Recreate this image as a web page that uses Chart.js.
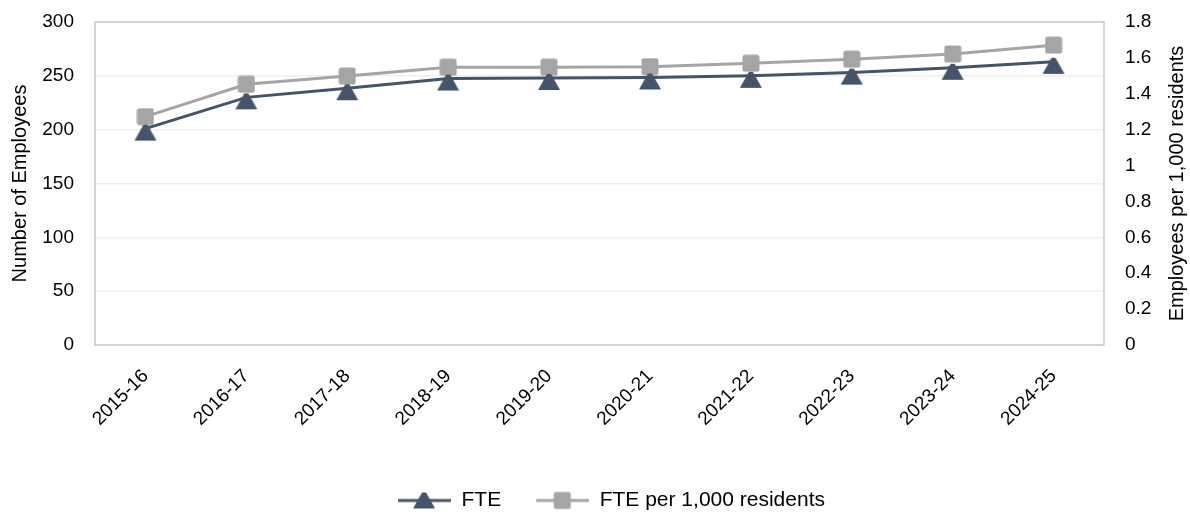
<!DOCTYPE html>
<html>
<head>
<meta charset="utf-8">
<script src="https://cdn.jsdelivr.net/npm/chart.js@4/dist/chart.umd.min.js"></script>
<style>
  html, body { margin: 0; padding: 0; background: #fff; }
  #wrap { width: 1190px; height: 512px; }
</style>
</head>
<body>
<div id="wrap"><canvas id="myChart_fte"></canvas></div>
<script>
const years = ['2015-16', '2016-17', '2017-18', '2018-19', '2019-20',
  '2020-21', '2021-22', '2022-23', '2023-24', '2024-25']
const fte = [201, 230, 238.5, 247.5, 248, 248.5, 250, 253, 257.5, 263]
const ftePerThousand = [1.273, 1.453, 1.499, 1.548, 1.548, 1.551, 1.570, 1.593, 1.622, 1.671]
const leftTicks = [0, 50, 100, 150, 200, 250, 300]
const rightTicks = [0, 0.2, 0.4, 0.6, 0.8, 1, 1.2, 1.4, 1.6, 1.8]

const FONT = "'Liberation Sans', Arial, sans-serif"
const dark = '#44546a'
const grey = '#a5a5a5'

function roundRect(ctx, x, y, w, h, r) {
  ctx.beginPath()
  ctx.moveTo(x + r, y)
  ctx.arcTo(x + w, y, x + w, y + h, r)
  ctx.arcTo(x + w, y + h, x, y + h, r)
  ctx.arcTo(x, y + h, x, y, r)
  ctx.arcTo(x, y, x + w, y, r)
  ctx.closePath()
}

// triangle hangs a little below the point, like the original
function drawTri(ctx, cx, top, color) {
  ctx.fillStyle = color
  ctx.beginPath()
  ctx.moveTo(cx - 2, top)
  ctx.lineTo(cx + 2, top)
  ctx.lineTo(cx + 11, top + 16)
  ctx.lineTo(cx - 11, top + 16)
  ctx.closePath()
  ctx.fill()
}

function triMarker(color) {
  const c = document.createElement('canvas')
  c.width = 24; c.height = 32
  drawTri(c.getContext('2d'), 12, 12, color)
  return c
}

function squareMarker(color) {
  const c = document.createElement('canvas')
  c.width = 18; c.height = 18
  const ctx = c.getContext('2d')
  ctx.fillStyle = color
  roundRect(ctx, 0.5, 0.5, 17, 17, 2.5)
  ctx.fill()
  return c
}

// little legend pictures: blank gap, then a line with the marker on it
function legendIcon(color, shape) {
  const gap = 33
  const c = document.createElement('canvas')
  c.width = gap + 53; c.height = 24
  const ctx = c.getContext('2d')
  ctx.strokeStyle = color
  ctx.lineWidth = 3
  ctx.beginPath(); ctx.moveTo(gap, 12); ctx.lineTo(gap + 53, 12); ctx.stroke()
  const mid = gap + 26
  if (shape === 'triangle') {
    drawTri(ctx, mid, 4, color)
  } else {
    ctx.fillStyle = color
    roundRect(ctx, mid - 8.5, 3.5, 17, 17, 2.5)
    ctx.fill()
  }
  return c
}

const plotFrame = {
  id: 'plotFrame',
  afterLayout(chart) {
    chart.legend.top += 9
    chart.legend.bottom += 9
  },
  afterDraw(chart) {
    const a = chart.chartArea
    const ctx = chart.ctx
    ctx.save()
    ctx.strokeStyle = '#c8c8c8'
    ctx.lineWidth = 1.5
    ctx.strokeRect(a.left, a.top, a.right - a.left, a.bottom - a.top)
    // right axis title, reading upwards
    ctx.translate(1177, (a.top + a.bottom) / 2)
    ctx.rotate(-Math.PI / 2)
    ctx.fillStyle = '#000'
    ctx.font = '20px ' + FONT
    ctx.textAlign = 'center'
    ctx.textBaseline = 'middle'
    ctx.fillText('Employees per 1,000 residents', 0, 0)
    ctx.restore()
  }
}

const data_fte = {
  labels: years,
  datasets: [{
    label: 'FTE',
    data: fte,
    yAxisID: 'y',
    borderColor: dark,
    backgroundColor: dark,
    borderWidth: 3,
    pointStyle: triMarker(dark),
    pointRadius: 10,
    pointHoverRadius: 10,
    tension: 0,
    order: 1
  }, {
    label: 'FTE per 1,000 residents',
    data: ftePerThousand,
    yAxisID: 'y1',
    borderColor: grey,
    backgroundColor: grey,
    borderWidth: 3,
    pointStyle: squareMarker(grey),
    pointRadius: 10,
    pointHoverRadius: 10,
    tension: 0,
    order: 2
  }]
}

const config_fte = {
  type: 'line',
  data: data_fte,
  plugins: [plotFrame],
  options: {
    responsive: false,
    animation: false,
    layout: { padding: { top: 22, left: 0, right: 0, bottom: 0 } },
    plugins: {
      tooltip: { enabled: false },
      legend: {
        position: 'bottom',
        labels: {
          color: '#000',
          font: { family: FONT, size: 21 },
          padding: 2,
          usePointStyle: true,
          pointStyleWidth: 86,
          generateLabels(chart) {
            return chart.data.datasets.map((ds, i) => ({
              text: ds.label,
              pointStyle: legendIcon(ds.borderColor, i === 0 ? 'triangle' : 'square'),
              fillStyle: ds.borderColor,
              strokeStyle: ds.borderColor,
              lineWidth: 0,
              hidden: false,
              datasetIndex: i
            }))
          }
        }
      }
    },
    scales: {
      x: {
        offset: true,
        grid: { display: false, drawTicks: false },
        border: { display: false },
        ticks: {
          color: '#000',
          font: { family: FONT, size: 19 },
          minRotation: 45,
          maxRotation: 45,
          padding: 20
        },
        afterFit(scale) { scale.height = 134 }
      },
      y: {
        position: 'left',
        min: 0,
        max: 300,
        afterBuildTicks(scale) { scale.ticks = leftTicks.map(v => ({ value: v })) },
        grid: { color: '#efefef', lineWidth: 1.5, drawTicks: false },
        border: { display: false },
        ticks: {
          color: '#000',
          font: { family: FONT, size: 19 },
          padding: 21
        },
        title: {
          display: true,
          text: 'Number of Employees',
          color: '#000',
          font: { family: FONT, size: 20 },
          padding: { top: 8, bottom: 0 }
        },
        afterFit(scale) { scale.width = 95; scale.paddingTop = 0; scale.paddingBottom = 0 }
      },
      y1: {
        position: 'right',
        min: 0,
        max: 1.8,
        afterBuildTicks(scale) { scale.ticks = rightTicks.map(v => ({ value: v })) },
        grid: { display: false, drawTicks: false },
        border: { display: false },
        ticks: {
          color: '#000',
          font: { family: FONT, size: 19 },
          padding: 21,
          callback: v => String(Math.round(v * 10) / 10)
        },
        afterFit(scale) { scale.width = 86; scale.paddingTop = 0; scale.paddingBottom = 0 }
      }
    }
  }
}

const canvas = document.getElementById('myChart_fte')
canvas.width = 1190
canvas.height = 512
const lineChart_fte = new Chart(canvas, config_fte)
</script>
</body>
</html>
